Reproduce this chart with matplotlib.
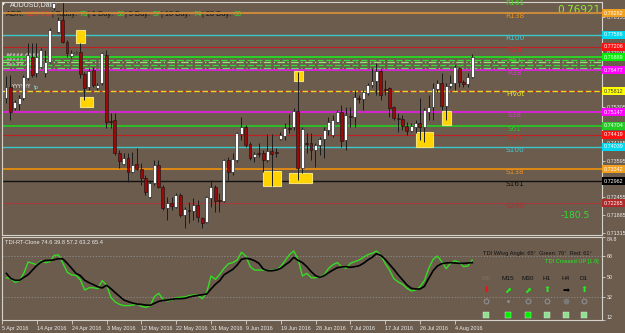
import matplotlib
matplotlib.use("Agg")
import matplotlib.pyplot as plt
from matplotlib.patches import Rectangle
from matplotlib.transforms import blended_transform_factory

# ---- daily AUDUSD candles (bar 0 = leftmost) ----
opens = [.7559, .7594, .7527, .7540, .7559, .7622, .7689, .7638, .7657, .7638,
         .7673, .7844, .7768, .7806, .7736, .7692, .7702, .7705, .7635, .7594,
         .7648, .7591, .7607, .7695, .7486, .7489, .7385, .7350, .7369, .7325,
         .7350, .7334, .7306, .7246, .7290, .7347, .7277, .7211, .7227, .7214,
         .7252, .7189, .7204, .7201, .7220, .7179, .7166, .7242, .7277, .7236,
         .7233, .7363, .7325, .7363, .7445, .7467, .7413, .7372, .7385, .7385,
         .7363, .7391, .7388, .7429, .7439, .7464, .7467, .7518, .7337, .7417,
         .7417, .7394, .7410, .7429, .7458, .7442, .7483, .7515, .7426, .7502,
         .7499, .7559, .7556, .7575, .7600, .7613, .7645, .7588, .7591, .7530,
         .7496, .7493, .7470, .7455, .7467, .7480, .7467, .7515, .7530, .7588,
         .7607, .7534, .7597, .7607, .7654, .7610, .7603, .7626]
closes = [.7594, .7515, .7546, .7559, .7626, .7695, .7632, .7689, .7711, .7673,
          .7774, .7860, .7806, .7736, .7702, .7702, .7705, .7635, .7591, .7645,
          .7600, .7600, .7702, .7483, .7483, .7385, .7360, .7369, .7325, .7347,
          .7334, .7306, .7261, .7290, .7347, .7277, .7211, .7227, .7217, .7252,
          .7189, .7208, .7201, .7220, .7182, .7163, .7246, .7277, .7233, .7233,
          .7363, .7325, .7366, .7448, .7467, .7410, .7369, .7382, .7382, .7363,
          .7391, .7382, .7385, .7442, .7464, .7461, .7518, .7337, .7461, .7413,
          .7394, .7410, .7429, .7458, .7483, .7489, .7515, .7423, .7505, .7499,
          .7562, .7556, .7578, .7600, .7613, .7645, .7569, .7584, .7527, .7496,
          .7493, .7470, .7455, .7470, .7480, .7467, .7521, .7530, .7591, .7607,
          .7534, .7597, .7607, .7657, .7610, .7603, .7626, .7689]
highs = [.7629, .7632, .7553, .7569, .7632, .7733, .7733, .7733, .7717, .7711,
         .7781, .7869, .7816, .7863, .7743, .7711, .7708, .7733, .7641, .7654,
         .7657, .7607, .7705, .7711, .7511, .7511, .7394, .7385, .7385, .7388,
         .7401, .7353, .7315, .7299, .7363, .7363, .7284, .7246, .7246, .7258,
         .7258, .7214, .7230, .7242, .7236, .7182, .7249, .7299, .7284, .7258,
         .7366, .7372, .7385, .7451, .7499, .7474, .7420, .7388, .7417, .7394,
         .7445, .7445, .7401, .7451, .7480, .7508, .7527, .7641, .7467, .7448,
         .7448, .7417, .7436, .7467, .7499, .7505, .7521, .7537, .7530, .7530,
         .7584, .7569, .7584, .7607, .7654, .7670, .7651, .7616, .7594, .7534,
         .7511, .7505, .7483, .7480, .7489, .7559, .7527, .7569, .7607, .7616,
         .7638, .7607, .7632, .7664, .7657, .7616, .7638, .7698]
lows = [.7543, .7489, .7521, .7521, .7553, .7616, .7626, .7626, .7654, .7626,
        .7670, .7838, .7765, .7733, .7689, .7686, .7698, .7622, .7553, .7584,
        .7594, .7584, .7600, .7464, .7464, .7379, .7337, .7347, .7293, .7322,
        .7331, .7284, .7252, .7242, .7284, .7274, .7204, .7173, .7204, .7211,
        .7182, .7147, .7163, .7173, .7166, .7147, .7163, .7214, .7198, .7198,
        .7230, .7299, .7315, .7356, .7426, .7404, .7363, .7356, .7372, .7325,
        .7356, .7280, .7372, .7426, .7426, .7448, .7458, .7299, .7322, .7385,
        .7363, .7341, .7379, .7369, .7442, .7436, .7480, .7404, .7394, .7467,
        .7467, .7543, .7521, .7569, .7594, .7569, .7553, .7569, .7499, .7489,
        .7451, .7458, .7442, .7451, .7448, .7426, .7420, .7489, .7489, .7578,
        .7521, .7489, .7591, .7584, .7594, .7594, .7594, .7622]

# pivot / fibonacci levels
level_names = ["R161", "R138", "R100", "R78", "R61", "R38", "Pivot",
               "S38", "S61", "S78", "S100", "S138", "S161", "S200"]
level_values = [0.78725, 0.78282, 0.77586, 0.77206, 0.76889, 0.76477, 0.75812,
                0.75147, 0.74704, 0.74419, 0.74039, 0.73342, 0.72962, 0.72265]
band_values = [0.76810, 0.76731, 0.76636, 0.76541]

# yellow zones (bar index from/to, price top/bottom)
zone_from = [16.1, 17.0, 66.1, 59.0, 65.0, 94.1, 100.1]
zone_to = [18.1, 20.0, 68.2, 63.1, 70.2, 98.0, 102.1]
zone_top = [0.7774, 0.7562, 0.7645, 0.7328, 0.7322, 0.7451, 0.7518]
zone_bottom = [0.7733, 0.7530, 0.7613, 0.7280, 0.7290, 0.7404, 0.7474]

# TDI sub window
tdi_green = [49.1, 48.2, 45.0, 46.2, 52.9, 62.9, 61.7, 60.5, 64.0, 62.3,
             63.2, 68.7, 69.0, 61.7, 53.8, 51.5, 51.2, 47.1, 38.3, 40.3,
             40.3, 39.5, 46.5, 42.7, 31.9, 27.8, 25.7, 24.6, 24.6, 25.1,
             26.0, 24.0, 23.1, 24.3, 32.5, 35.4, 30.1, 28.7, 29.5, 31.6,
             31.9, 32.2, 33.3, 33.9, 33.9, 30.7, 36.0, 50.6, 47.7, 52.1,
             57.3, 61.4, 62.3, 64.6, 71.4, 68.1, 58.8, 55.8, 55.8, 55.8,
             55.2, 55.8, 55.8, 58.8, 64.0, 69.3, 72.5, 65.2, 50.6, 52.9,
             49.1, 49.1, 50.0, 51.5, 57.3, 60.5, 62.3, 58.8, 57.3, 61.7,
             63.2, 64.6, 67.0, 69.3, 70.5, 72.5, 68.7, 61.7, 55.8, 48.2,
             45.3, 43.3, 39.8, 37.4, 38.3, 41.2, 46.5, 57.3, 65.2, 68.1,
             63.2, 57.0, 61.7, 64.0, 62.6, 58.8, 59.4, 64.6]
tdi_signal = [52.9, 48.5, 46.8, 46.8, 49.4, 51.7, 55.8, 59.9, 62.9, 64.3,
              64.3, 64.9, 65.8, 65.5, 61.7, 57.3, 52.9, 50.9, 46.8, 44.7,
              43.0, 41.2, 40.1, 42.4, 39.5, 36.0, 32.7, 29.5, 28.1, 26.9,
              26.0, 25.7, 25.1, 24.9, 26.6, 28.4, 29.2, 29.5, 30.1, 30.7,
              30.7, 31.0, 32.2, 33.0, 33.6, 34.2, 34.8, 39.2, 43.3, 46.5,
              51.7, 54.1, 56.4, 60.2, 65.2, 66.1, 65.5, 64.0, 61.7, 56.7,
              55.2, 55.2, 55.8, 57.3, 60.2, 62.9, 67.0, 64.3, 62.3, 58.8,
              54.4, 50.9, 49.4, 50.9, 53.5, 55.8, 57.9, 58.5, 58.8, 58.2,
              58.8, 59.6, 61.7, 64.6, 67.0, 70.2, 68.7, 65.2, 60.8, 56.4,
              51.5, 47.1, 42.7, 39.8, 39.2, 39.2, 41.5, 48.5, 55.2, 59.4,
              61.4, 62.0, 62.3, 62.0, 61.7, 61.7, 62.0, 62.3]
tdi_levels = [68, 32]
tdi_ticks = [12, 32, 50, 68, 84.8]

date_bars = [-1, 7, 15, 23, 31, 39, 47, 55, 63, 71, 79, 87, 95, 103]
date_labels = ["5 Apr 2016", "14 Apr 2016", "24 Apr 2016", "3 May 2016",
               "12 May 2016", "22 May 2016", "31 May 2016", "9 Jun 2016",
               "19 Jun 2016", "28 Jun 2016", "7 Jul 2016", "17 Jul 2016",
               "26 Jul 2016", "4 Aug 2016"]
price_ticks = [0.71315, 0.71885, 0.72455, 0.73025, 0.73595, 0.74165, 0.74735,
               0.75305, 0.75875, 0.76445, 0.77015, 0.77585, 0.78155]

adr_parts = ["ADR: ", "107.0%", "| Today: ", "76", "| 1 Day: ", "66",
             "| 5 Day: ", "57", "| 10 Day: ", "74", "| 20 Day: ", "60"]
timeframes = ["M5", "M15", "M30", "H1", "H4", "D1"]
tf_arrows = ["\u2b07", "\u2b08", "\u2b08", "\u2b06", "\u27a1", "\u2b06"]

# ---- styles ----
BG = "#6b5c4e"
FRAME = "#d6d2cc"
TXT = "#ececec"
SMALL = ["Liberation Sans", "DejaVu Sans"]
line_col = [None, "#c88a3a", "#3cc8c8", "#c02020", "#22dd22", "#e020e0", "#e6dc28",
            "#e020e0", "#22cc22", "#c02020", "#3cc8c8", "#f0900a", "#111111", "#a83a3a"]
line_w = [1, 1.5, 1.0, 0.8, 1.3, 1.3, 1.0, 1.3, 1.2, 0.8, 1.0, 1.2, 1.0, 0.8]
text_col = ["#44dd22", "#e89020", "#40c8d0", "#dd2222", "#22dd22", "#dd33dd", "#e8e030",
            "#dd33dd", "#22cc22", "#dd2222", "#40c8d0", "#e89020", "#111111", "#a83030"]
box_col = [None, "#f0a020", "#00d8f0", "#ff1010", "#00ee00", "#ff00ff", "#ffff00",
           "#ff00ff", "#22cc22", "#ff1010", "#00d8f0", "#f0a020", "#000000", "#b02828"]

W, H = 625, 333
SPACING = 4.357
x_left = -(6 - 2) / SPACING
x_right = x_left + 600 / SPACING

fig = plt.figure(figsize=(W / 100, H / 100), dpi=100, facecolor=BG)
ov = fig.add_axes([0, 0, 1, 1], zorder=0)
ov.set_xlim(0, W)
ov.set_ylim(H, 0)
ov.axis("off")

ax = fig.add_axes([2 / W, 1 - 235 / H, 600 / W, 233 / H], zorder=2)
sub = fig.add_axes([2 / W, 1 - 320 / H, 600 / W, 83 / H], zorder=2)
for a in (ax, sub):
    a.set_facecolor("none")
    a.set_xlim(x_left, x_right)
    for s in a.spines.values():
        s.set_color(FRAME)
        s.set_linewidth(0.8)

ax.set_ylim(0.71252, 0.78631)
bars = list(range(len(opens)))

# levels
for k, v in enumerate(level_values):
    if k == 0:
        continue
    if level_names[k] == "Pivot":
        ax.axhline(v, color="#d02020", lw=0.8, zorder=1)
        ax.axhline(v, color=line_col[k], lw=1.0, ls=(0, (4, 2)), zorder=1.1)
    else:
        ax.axhline(v, color=line_col[k], lw=line_w[k], zorder=1)
band_styles = [(0, (5, 2)), (0, (6, 2, 1, 2)), (0, (5, 2)), (0, (6, 2, 1, 2))]
band_cols = ["#33e033", "#9be07a", "#33e033", "#5ee05e"]
for v, st, c in zip(band_values, band_styles, band_cols):
    ax.axhline(v, color=c, lw=0.9, ls=st, zorder=1)

for k, v in enumerate(level_values):
    ax.text(116.8, v - 0.0011, level_names[k], color=text_col[k], fontsize=5.3,
            ha="center", va="center", zorder=3, clip_on=False)

# yellow zones
for x0, x1, t, b in zip(zone_from, zone_to, zone_top, zone_bottom):
    ax.add_patch(Rectangle((x0, b), x1 - x0, t - b, facecolor="#ffd400",
                           edgecolor="#f3e27a", lw=0.8, zorder=1.5))

# candles
for i in bars:
    o, h, l, c = opens[i], highs[i], lows[i], closes[i]
    ax.vlines(i, l, h, color="#1c1c1c", lw=0.7, zorder=2)
    up = c >= o
    bot = min(o, c)
    hgt = max(abs(c - o), 0.00005)
    ax.bar(i, hgt, bottom=bot, width=0.68, color="#ffffff" if up else "#9a0a0a",
           edgecolor="#111111", linewidth=0.4, zorder=2.2)

# right price scale (labels fully hidden under a level box are left out)
ylo, yhi = ax.get_ylim()
shown = [p for p in price_ticks
         if all(abs(p - v) > 0.0007 for v in level_values if ylo < v < yhi)]
ax.yaxis.tick_right()
ax.set_yticks(shown)
ax.set_yticklabels([f"{p:.5f}" for p in shown], fontsize=3.9,
                   family=SMALL, color=TXT)
ax.tick_params(axis="y", length=2, width=0.6, color=FRAME, pad=1.2)
ax.set_xticks([])

btr = blended_transform_factory(ax.transAxes, ax.transData)
for k, v in enumerate(level_values):
    if box_col[k] is None or not (ylo < v < yhi):
        continue
    tc = "#3a3a3a" if level_names[k] == "Pivot" else "#ffffff"
    ax.text(1.0035, v, f"{v:.5f}", transform=btr, fontsize=3.9, family=SMALL,
            color=tc, ha="left", va="center", zorder=4, clip_on=False,
            bbox=dict(boxstyle="square,pad=0.3", facecolor=box_col[k],
                      edgecolor="none"))

# TDI window
sub.set_ylim(12, 84.8)
for lv in tdi_levels:
    sub.axhline(lv, color="#8f8f8f", lw=0.6, ls=(0, (1.5, 2)), zorder=1)
sub.plot(bars, tdi_green, color="#33dd22", lw=1.0, zorder=2)
sub.plot(bars, tdi_signal, color="#000000", lw=1.2, zorder=3)
sub.yaxis.tick_right()
sub.set_yticks(tdi_ticks)
sub.set_yticklabels([str(t) for t in tdi_ticks], fontsize=3.9, family=SMALL, color=TXT)
sub.tick_params(axis="y", length=2, width=0.6, color=FRAME, pad=1.2)
ylabs = sub.get_yticklabels()
ylabs[0].set_va("bottom")
ylabs[-1].set_va("top")
sub.set_xticks(date_bars)
sub.set_xticklabels(date_labels, fontsize=3.9, family=SMALL, color=TXT, ha="left")
sub.tick_params(axis="x", length=3, width=0.6, color=FRAME, pad=1.5)
sub.text(0.005, 0.96, "TDI-RT-Clone 74.6 39.8 57.2 63.2 65.4", transform=sub.transAxes,
         fontsize=4.1, family=SMALL, color=TXT, ha="left", va="top")

# header
ov.text(4, 5, "\u25bc", fontsize=3, color="#ffffff", ha="center", va="center")
ov.text(10, 5.5, "AUDUSD,Daily", fontsize=5, family=SMALL, color=TXT, ha="left", va="center")
x = 6
for k, part in enumerate(adr_parts):
    if k == 1:
        c = "#ff2a2a"
    elif k % 2 == 1:
        c = "#22ee22"
    else:
        c = "#111111"
    t = ov.text(x, 14.5, part, fontsize=5.3, family=SMALL, color=c, ha="left", va="center")
    fig.canvas.draw()
    bb = t.get_window_extent()
    x += bb.width * 1.03

# indicator label clutter on the left
for yy in (55, 60, 65):
    ov.text(6, yy, "#####.####", fontsize=3.2, color="#f4f4f4", ha="left", va="center")
ov.text(12, 87, "Y:YYY:YY", fontsize=3.4, color="#f4f4f4", ha="left", va="center")
ov.text(34, 88, "tp", fontsize=3.4, color="#7fe0e8", ha="left", va="center")

# big numbers
ov.text(601, 10, "0.76921", fontsize=7.6, color="#8ff028", ha="right", va="center")
ov.text(590, 215, "-180.5", fontsize=6.6, color="#33dd33", ha="right", va="center")

# TDI dashboard
ov.text(483, 253, "TDI WAvg Angle: 65\u00b0  Green: 76\u00b0  Red: 61\u00b0", fontsize=4.1,
        family=SMALL, color="#111111", ha="left", va="center", zorder=5)
ov.text(599, 262, "TDI Crossed UP [1.8]", fontsize=4.1, family=SMALL, color="#22ee22",
        ha="right", va="center", zorder=5)
tf_x = [486, 508, 528, 547, 566, 584]
arrow_cols = ["#ee1111", "#22ee22", "#22ee22", "#22ee22", "#000000", "#22ee22"]
sq_cols = ["#8fe08f", "#00f000", "#00f000", "#8fe08f", "#8fe08f", "#8fe08f"]
for k, tf in enumerate(timeframes):
    ov.text(tf_x[k], 278, tf, fontsize=4.6, family=SMALL,
            color="#7d7062" if k == 0 else "#111111",
            ha="center", va="center", zorder=5)
    ov.text(tf_x[k], 290, tf_arrows[k], fontsize=6, color=arrow_cols[k],
            ha="center", va="center", zorder=5)
    if k == 1:
        ov.plot(tf_x[k], 301, "o", ms=1.2, color="#8a8a8a", zorder=5)
    elif k == 4:
        ov.plot(tf_x[k], 301, "o", ms=3.2, color="#7a7a7a", zorder=5)
    else:
        ov.plot(tf_x[k], 301, "o", ms=3.4, mfc="none", mec="#8a8a8a", mew=0.9, zorder=5)
    ov.plot(tf_x[k], 315, "s", ms=3.8, color=sq_cols[k], mec="#d8f0d8", mew=0.3, zorder=5)

fig.savefig("out.png", dpi=100, facecolor=BG)
